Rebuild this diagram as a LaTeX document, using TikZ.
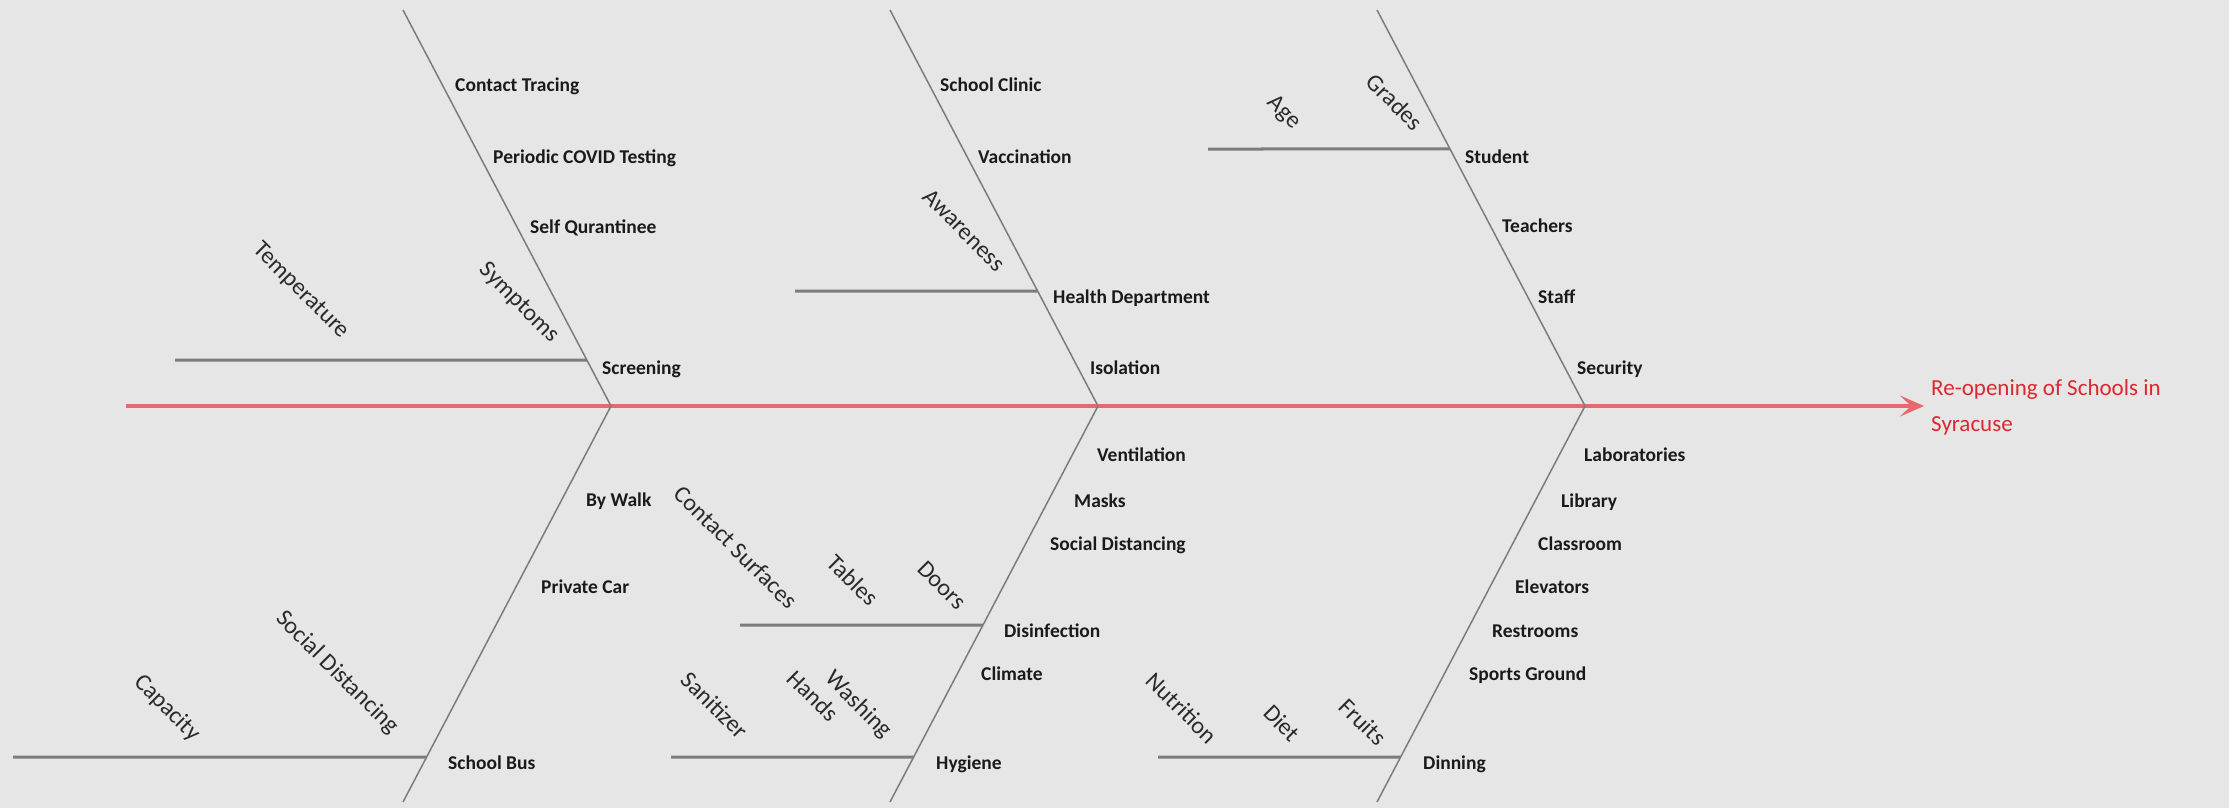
\documentclass[tikz,border=0pt]{standalone}
\usepackage{fontspec}
\setmainfont{Carlito}
\usetikzlibrary{arrows.meta,calc}
\definecolor{bgc}{HTML}{E6E6E6}
\definecolor{bonec}{HTML}{7C7C7C}
\definecolor{spinec}{HTML}{E8696C}
\definecolor{titlec}{HTML}{DC2830}
\definecolor{txtc}{HTML}{1A1A1A}
\definecolor{rtxtc}{HTML}{2A2A2A}
\begin{document}
\begin{tikzpicture}[x=1pt,y=-1pt,
  bone/.style={draw=bonec, line width=1.5pt},
  subbone/.style={draw=bonec, line width=3pt},
  spine/.style={draw=spinec, line width=3.5pt},
  lbl/.style={anchor=west, inner sep=0pt, yshift=-1.5pt, text=txtc, font=\fontsize{19.5}{22}\selectfont\bfseries, text height=13pt, text depth=4pt},
  rlbl/.style={rotate=-45, inner sep=0pt, text=rtxtc, font=\fontsize{24}{28}\selectfont}
]
\fill[bgc] (0,0) rectangle (2229,808);
\useasboundingbox (0,0) rectangle (2229,808);

% bone end points
\coordinate (T1) at (403,10);  \coordinate (J1) at (611,406);  \coordinate (B1) at (403,802);
\coordinate (T2) at (890,10);  \coordinate (J2) at (1098,406); \coordinate (B2) at (890,802);
\coordinate (T3) at (1377,10); \coordinate (J3) at (1585,406); \coordinate (B3) at (1377,802);

% spine and effect
\coordinate (S0) at (126,406);
\node[anchor=west, inner sep=0pt, align=left, text=titlec, font=\fontsize{23}{36}\selectfont] (title) at (1931,407) {Re-opening of Schools in\\Syracuse};
\draw[spine, -{Stealth[length=24pt,width=21pt,inset=11pt]}, shorten >=7pt] (S0) -- (S0 -| title.west);

% bones
\draw[bone] (T1) -- (J1) -- (B1);
\draw[bone] (T2) -- (J2) -- (B2);
\draw[bone] (T3) -- (J3) -- (B3);

% sub-bones
\coordinate (a1) at (175,360);  \coordinate (a2) at ($(T1)!{350/396}!(J1)$);
\coordinate (b1) at (795,291);  \coordinate (b2) at ($(T2)!{281/396}!(J2)$);
\coordinate (c1) at (1208,149); \coordinate (c2) at ($(T3)!{139/396}!(J3)$);
\coordinate (d1) at (13,757);   \coordinate (d2) at ($(J1)!{351/396}!(B1)$);
\coordinate (e1) at (740,625);  \coordinate (e2) at ($(J2)!{219/396}!(B2)$);
\coordinate (f1) at (671,757);  \coordinate (f2) at ($(J2)!{351/396}!(B2)$);
\coordinate (g1) at (1158,757); \coordinate (g2) at ($(J3)!{351/396}!(B3)$);
\draw[subbone] (a1) -- (a2);
\draw[subbone] (b1) -- (b2);
\draw[subbone] (c1) -- (c2);
\draw[subbone] (d1) -- (d2);
\draw[subbone] (e1) -- (e2);
\draw[subbone] (f1) -- (f2);
\draw[subbone] (g1) -- (g2);

% top bone 1
\node[lbl] (ct) at (455,86) {Contact Tracing};
\node[lbl] (pct) at (493,157) {Periodic COVID Testing};
\node[lbl] (sq) at (530,227) {Self Qurantinee};
\node[lbl] (scr) at (602,368) {Screening};
\node[rlbl] (temp) at (301,291) {Temperature};
\node[rlbl] (sym) at (519,303) {Symptoms};

% top bone 2
\node[lbl] (sc) at (940,86) {School Clinic};
\node[lbl] (vac) at (978,157) {Vaccination};
\node[lbl] (hd) at (1053,297) {Health Department};
\node[lbl] (iso) at (1090,368) {Isolation};
\node[rlbl] (aw) at (964,230) {Awareness};

% top bone 3
\node[lbl] (stu) at (1465,157) {Student};
\node[lbl] (tea) at (1502,226) {Teachers};
\node[lbl] (sta) at (1538,297) {Staff};
\node[lbl] (sec) at (1577,368) {Security};
\node[rlbl] (age) at (1284,113) {Age};
\node[rlbl] (gra) at (1395,102) {Grades};

% bottom bone 1
\node[lbl] (bw) at (586,500) {By Walk};
\node[lbl] (pc) at (541,587) {Private Car};
\node[lbl] (sb) at (448,763) {School Bus};
\node[rlbl] (cap) at (167,708) {Capacity};
\node[rlbl] (sd1) at (337,673) {Social Distancing};

% bottom bone 2
\node[lbl] (ven) at (1097,455) {Ventilation};
\node[lbl] (mas) at (1074,501) {Masks};
\node[lbl] (sd2) at (1050,544) {Social Distancing};
\node[lbl] (dis) at (1004,631) {Disinfection};
\node[lbl] (cli) at (981,674) {Climate};
\node[lbl] (hyg) at (936,763) {Hygiene};
\node[rlbl] (cs) at (736,547) {Contact Surfaces};
\node[rlbl] (tab) at (853,580) {Tables};
\node[rlbl] (doo) at (942,585) {Doors};
\node[rlbl] (san) at (715,705) {Sanitizer};
\node[rlbl] (han) at (813,696) {Hands};
\node[rlbl] (was) at (858,705) {Washing};

% bottom bone 3
\node[lbl] (lab) at (1584,455) {Laboratories};
\node[lbl] (lib) at (1561,501) {Library};
\node[lbl] (cla) at (1538,544) {Classroom};
\node[lbl] (ele) at (1515,587) {Elevators};
\node[lbl] (res) at (1492,631) {Restrooms};
\node[lbl] (spg) at (1469,674) {Sports Ground};
\node[lbl] (din) at (1423,763) {Dinning};
\node[rlbl] (nut) at (1182,708) {Nutrition};
\node[rlbl] (die) at (1282,723) {Diet};
\node[rlbl] (fru) at (1363,722) {Fruits};
\end{tikzpicture}
\end{document}
